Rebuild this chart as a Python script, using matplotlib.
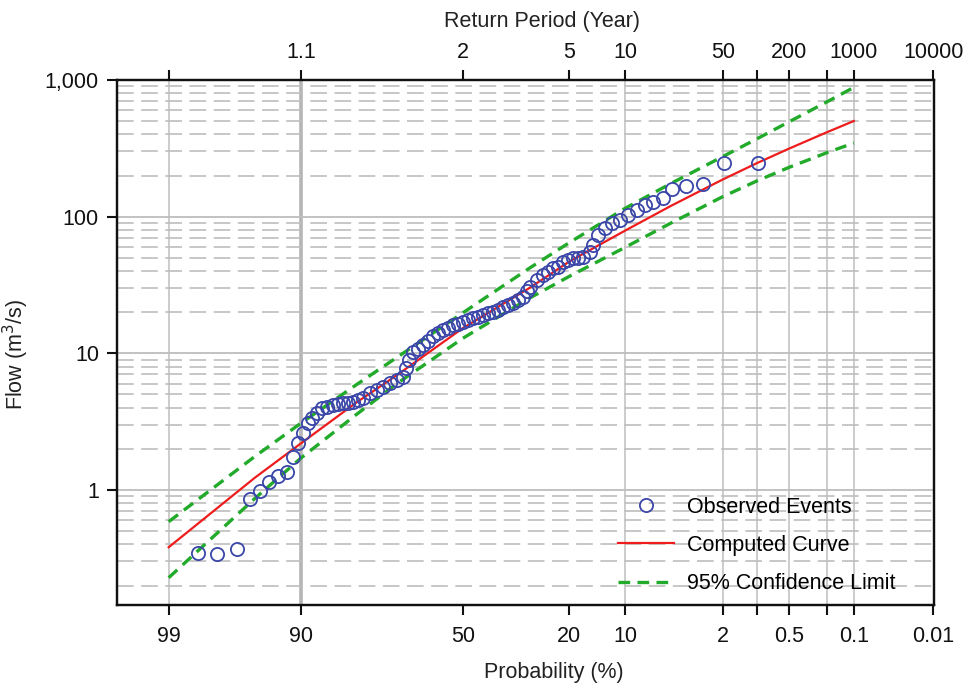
import math
from statistics import NormalDist
import numpy as np
import matplotlib
matplotlib.use('Agg')
import matplotlib.pyplot as plt
from matplotlib.ticker import NullLocator, NullFormatter, LogLocator
from matplotlib.lines import Line2D

plt.rcParams['font.family'] = ['Liberation Sans', 'DejaVu Sans']

# observed events: exceedance probability (%) and flow (m3/s)
obs_prob = [98.2, 97.4, 96.3, 95.4, 94.6, 93.7, 92.8, 91.8, 91.0, 90.4,
            89.7, 88.9, 88.4, 87.6, 86.8, 85.9, 84.7, 83.8, 82.8, 81.8,
            80.7, 79.7, 78.5, 76.9, 75.2, 73.6, 71.8, 70.0, 68.2, 67.4,
            66.5, 65.3, 63.8, 62.3, 60.8, 59.3, 57.7, 56.2, 54.6, 53.1,
            51.5, 49.9, 48.3, 46.8, 45.2, 43.6, 42.1, 40.5, 39.0, 37.5,
            36.0, 34.5, 33.1, 31.7, 30.6, 29.8, 28.0, 26.3, 25.1, 23.9,
            22.6, 21.4, 20.3, 19.2, 18.2, 17.1, 15.8, 15.2, 14.2, 13.1,
            12.0, 10.7, 9.56, 8.49, 7.50, 6.63, 5.67, 4.93, 3.90, 2.87,
            1.94, 0.98]
obs_flow = [0.346, 0.340, 0.370, 0.855, 0.983, 1.15, 1.27, 1.36, 1.75, 2.20,
            2.60, 3.08, 3.36, 3.66, 3.96, 4.07, 4.19, 4.26, 4.31, 4.36,
            4.43, 4.55, 4.69, 5.10, 5.39, 5.70, 6.03, 6.38, 6.74, 7.80,
            8.93, 10.2, 10.7, 11.6, 12.4, 13.4, 14.1, 14.8, 15.4, 16.1,
            16.5, 17.0, 17.5, 18.0, 18.5, 19.1, 19.6, 20.2, 20.9, 21.7,
            22.5, 23.2, 24.5, 25.9, 28.6, 30.7, 34.4, 37.4, 39.3, 42.1,
            43.0, 46.8, 48.2, 49.6, 50.2, 50.9, 55.4, 62.0, 73.3, 82.1,
            89.3, 94.4, 102.8, 111.8, 121.5, 128.5, 136, 160.6, 167.4, 173,
            245, 245]

# computed frequency curve and 95% confidence limits
curve_prob = [99, 95, 90, 80, 70, 50, 30, 20, 10, 5, 2, 1, 0.5, 0.2, 0.1]
curve_flow = [0.381, 1.23, 2.19, 4.37, 6.9, 15.3, 30, 47, 79, 120, 187, 247, 314, 415, 501]
upper_flow = [0.586, 1.76, 3.08, 5.9, 9.3, 19.8, 41.9, 64.6, 115, 175, 275, 372, 493, 692, 883]
lower_flow = [0.228, 0.867, 1.71, 3.57, 5.98, 12.9, 25.3, 36.6, 59.6, 89.8, 140, 183, 229, 294, 346]

prob_ticks = [99, 90, 50, 20, 10, 2, 1, 0.5, 0.2, 0.1, 0.01]
prob_labels = ['99', '90', '50', '20', '10', '2', '', '0.5', '', '0.1', '0.01']
return_periods = [1.0101, 1.111, 2, 5, 10, 50, 100, 200, 500, 1000, 10000]
return_labels = ['', '1.1', '2', '5', '10', '50', '', '200', '', '1000', '10000']
vgrid_prob = [99, 90, 10, 2, 1, 0.5, 0.2, 0.1]

_nd = NormalDist()
_ppf = np.vectorize(_nd.inv_cdf, otypes=[float])
_erfc = np.vectorize(math.erfc, otypes=[float])


def prob_fwd(p):
    # exceedance probability (%) -> standard normal variate (increasing)
    p = np.clip(np.asarray(p, dtype=float), 1e-7, 100 - 1e-7)
    return _ppf(p / 100.0)


def prob_inv(z):
    z = np.asarray(z, dtype=float)
    return 50.0 * _erfc(-z / math.sqrt(2))


fig = plt.figure(figsize=(9.63, 6.88), dpi=100)
ax = fig.add_axes([117 / 963, 1 - 605 / 688, 817 / 963, 525 / 688])
ax.set_xscale('function', functions=(prob_fwd, prob_inv))
ax.set_yscale('log')
ax.set_xlim(99.688, 0.0098)
ax.set_ylim(0.144, 1000)

# grid
ax.yaxis.set_minor_locator(LogLocator(base=10, subs=np.arange(2, 10)))
ax.yaxis.set_minor_formatter(NullFormatter())
ax.set_yticks([1, 10, 100, 1000], labels=['1', '10', '100', '1,000'])
ax.grid(axis='y', which='major', color='#bdbdbd', lw=1.3, zorder=0)
ax.grid(axis='y', which='minor', color='#bdbdbd', lw=1.2, ls=(0, (10, 4.5)), zorder=0)
for p in vgrid_prob:
    if p == 90:
        ax.axvline(p, color='#b5b5b5', lw=2.6, zorder=0)
    else:
        ax.axvline(p, color='#c4c4c4', lw=1.2, zorder=0)

ax.plot(curve_prob, upper_flow, color='#22aa2a', lw=2.4, dashes=(3.5, 2.2), zorder=3)
ax.plot(curve_prob, lower_flow, color='#22aa2a', lw=2.4, dashes=(3.5, 2.2), zorder=3)
ax.plot(curve_prob, curve_flow, color='#ee1c1c', lw=1.6, zorder=4)
ax.plot(obs_prob, obs_flow, ls='none', marker='o', ms=9.5, mfc='none',
        mec='#3a46a8', mew=1.3, zorder=5)

ax.xaxis.set_minor_locator(NullLocator())
ax.set_xticks(prob_ticks, labels=prob_labels)
ax.tick_params(axis='both', which='major', direction='out', length=7, width=1.5,
               labelsize=15.5, colors='#111111')
ax.tick_params(axis='x', pad=8)
ax.tick_params(axis='y', pad=6)
ax.tick_params(axis='y', which='minor', length=0)
for s in ax.spines.values():
    s.set_linewidth(1.6)
    s.set_color('#111111')

ax.set_xlabel('Probability (%)', fontsize=15.5, color='#222222')
ax.xaxis.set_label_coords(0.535, -0.108)
ax.set_ylabel('Flow (m$^3$/s)', fontsize=15.5, color='#222222')
ax.yaxis.set_label_coords(-0.105, 0.478)

ax2 = ax.twiny()
ax2.set_xscale('function', functions=(prob_fwd, prob_inv))
ax2.set_xlim(ax.get_xlim())
ax2.xaxis.set_minor_locator(NullLocator())
ax2.set_xticks([100 / t for t in return_periods], labels=return_labels)
ax2.tick_params(axis='x', direction='out', length=7, width=1.5, labelsize=15.5,
                colors='#111111', pad=5)
ax2.set_xlabel('Return Period (Year)', fontsize=15.5, color='#222222')
ax2.xaxis.set_label_coords(0.52, 1.1)
for s in ax2.spines.values():
    s.set_linewidth(1.6)
    s.set_color('#111111')

handles = [
    Line2D([], [], ls='none', marker='o', ms=9.5, mfc='none', mec='#3a46a8', mew=1.3),
    Line2D([], [], color='#ee1c1c', lw=1.6),
    Line2D([], [], color='#22aa2a', lw=2.4, dashes=(3.5, 2.2)),
]
ax.legend(handles, ['Observed Events', 'Computed Curve', '95% Confidence Limit'],
          loc='lower left', bbox_to_anchor=(0.6, 0.0), frameon=False, fontsize=15.5,
          handlelength=2.6, handletextpad=0.6, labelspacing=0.8, borderaxespad=0.1)

fig.savefig('out.png', dpi=100)
